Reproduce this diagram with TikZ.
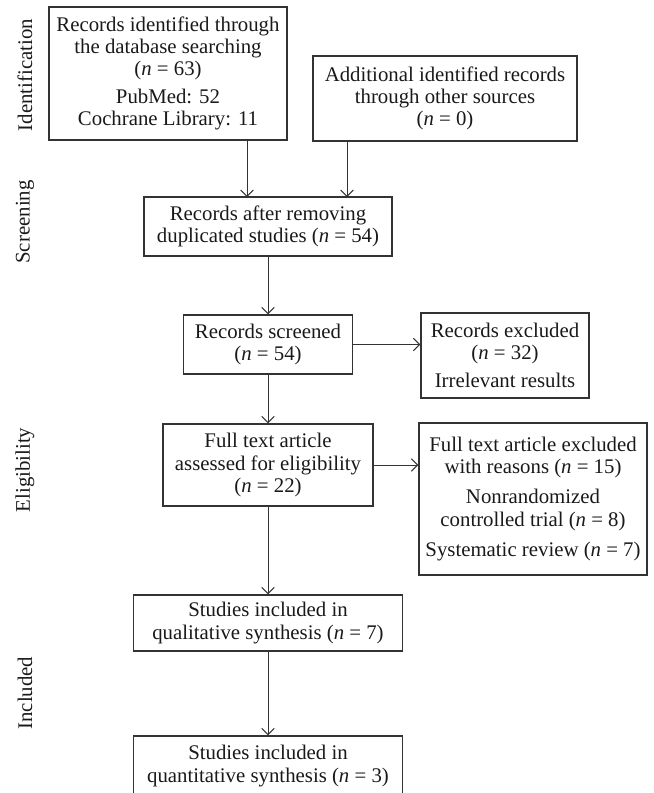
\documentclass[tikz,border=0pt]{standalone}
\usepackage{fontspec}
\setmainfont{Liberation Serif}
\usetikzlibrary{arrows.meta}

\begin{document}
\begin{tikzpicture}[
    box/.style={rectangle, draw=black!80, line width=0.9pt, align=center, inner sep=2pt, text=black!90, font=\fontsize{14.8}{15.8}\selectfont},
    arrow/.style={-{Straight Barb[length=4.5pt,width=9pt]}, line width=0.7pt, draw=black!80},
    stage/.style={rotate=90, text=black!90, font=\fontsize{14.8}{15.8}\selectfont}
]
\useasboundingbox (0,0) rectangle (16.325,-19.825);

% Identification
\node[box, minimum width=5.95cm, minimum height=3.325cm] (search) at (4.2,-1.8375) {Records identified through\\the database searching\\(\textit{n} = 63)\\[4pt]PubMed: 52\\Cochrane Library: 11};
\node[box, minimum width=6.6cm, minimum height=2.125cm] (other) at (11.125,-2.4625) {Additional identified records\\through other sources\\(\textit{n} = 0)};

% Screening
\node[box, minimum width=6.2cm, minimum height=1.475cm] (dupl) at (6.7,-5.6625) {Records after removing\\duplicated studies (\textit{n} = 54)};
\node[box, minimum width=4.225cm, minimum height=1.475cm] (screened) at (6.7,-8.6125) {Records screened\\(\textit{n} = 54)};
\node[box, minimum width=4.2cm, minimum height=2.125cm] (excl) at (12.625,-8.8875) {Records excluded\\(\textit{n} = 32)\\[4pt]Irrelevant results};

% Eligibility
\node[box, minimum width=5.25cm, minimum height=2.05cm] (fulltext) at (6.7,-11.625) {Full text article\\assessed for eligibility\\(\textit{n} = 22)};
\node[box, minimum width=5.7cm, minimum height=3.8cm] (reasons) at (13.325,-12.475) {Full text article excluded\\with reasons (\textit{n} = 15)\\[6pt]Nonrandomized\\controlled trial (\textit{n} = 8)\\[6pt]Systematic review (\textit{n} = 7)};

% Included
\node[box, minimum width=6.725cm, minimum height=1.4cm] (quali) at (6.7,-15.575) {Studies included in\\qualitative synthesis (\textit{n} = 7)};
\node[box, minimum width=6.725cm, minimum height=1.5cm] (quanti) at (6.7,-19.15) {Studies included in\\quantitative synthesis (\textit{n} = 3)};

% Fleches
\coordinate (inA) at (6.175,-4.925);
\coordinate (inB) at (8.675,-4.925);
\draw[arrow] (inA |- search.south) -- (inA);
\draw[arrow] (inB |- other.south) -- (inB);
\draw[arrow] (dupl) -- (screened);
\draw[arrow] (screened) -- (fulltext);
\draw[arrow] (fulltext) -- (quali);
\draw[arrow] (quali) -- (quanti);
\draw[arrow] (screened.east) -- (screened.east -| excl.west);
\draw[arrow] (fulltext.east) -- (fulltext.east -| reasons.west);

% Etapes (colonne gauche)
\node[stage] (ident) at (0.625,-1.875) {Identification};
\node[stage] (screen) at (0.625,-5.55) {Screening};
\node[stage] (elig) at (0.625,-11.75) {Eligibility};
\node[stage] (incl) at (0.625,-17.325) {Included};

\end{tikzpicture}
\end{document}
